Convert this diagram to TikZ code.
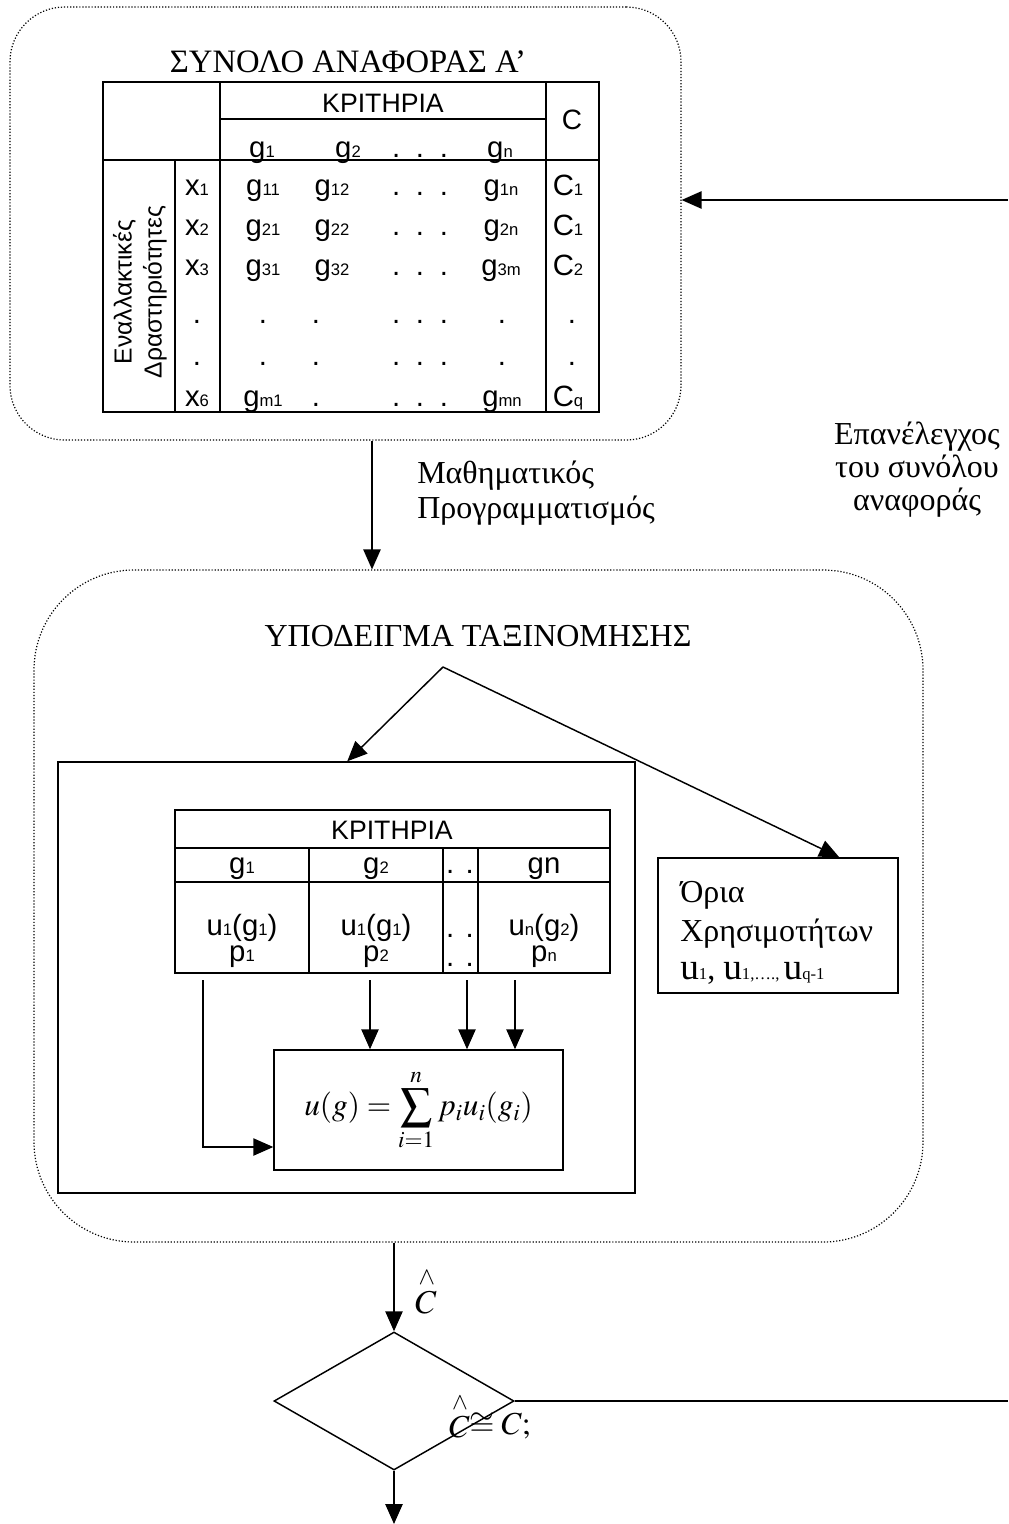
\documentclass[tikz,border=0pt]{standalone}
\usepackage{amsmath}
\usepackage{mathptmx}
\usepackage{fontspec}
\setmainfont{Liberation Serif}
\newfontfamily\arialfont{Liberation Sans}
\usetikzlibrary{arrows.meta,shapes.geometric}

\newcommand\tabfont{\arialfont\fontsize{22}{26}\selectfont}
\newcommand\serfont{\fontsize{24}{26}\selectfont}
\newcommand\ix[1]{{\fontsize{12.5}{13}\selectfont #1}}
\newcommand\tdots{.\hspace{11.8pt}.\hspace{11.8pt}.}
\newcommand\bigu{{\fontsize{28}{29}\selectfont u}}

\begin{document}
\begin{tikzpicture}[x=0.75pt,y=0.75pt,yscale=-1,xscale=1,
  dotbox/.style={draw, line width=0.9pt, dash pattern=on 0.9pt off 1.4pt, inner sep=0},
  solidbox/.style={draw, line width=1.1pt, inner sep=0},
  tline/.style={line width=2pt},
  sline/.style={line width=1.5pt},
  arr/.style={line width=1.1pt, -{Triangle[length=15pt,width=13pt]}},
  tab/.style={font=\tabfont, inner sep=0, anchor=base},
  serif/.style={font=\serfont, inner sep=0}]
\useasboundingbox (0,0) rectangle (1008,1524);

%Shape: Rounded Rect [id:refset]
\node (refset) [dotbox, rounded corners=41pt, minimum width=503.25pt, minimum height=324.75pt] at (345.5,223.5) {};
% Text Node
\node (refttl) [serif, font=\fontsize{24.5}{26}\selectfont] at (348,62) {ΣΥΝΟΛΟ ΑΝΑΦΟΡΑΣ Α’};

%Table: reference set
\draw[tline] (103,82) rectangle (599,412);
\draw[tline] (220,82) -- (220,412);
\draw[tline] (546,82) -- (546,412);
\draw[tline] (220,119) -- (546,119);
\draw[tline] (103,160) -- (599,160);
\draw[tline] (175,160) -- (175,412);

% Text Node
\node (rcrit) [tab, font=\arialfont\fontsize{20}{24}\selectfont] at (383,112) {ΚΡΙΤΗΡΙΑ};
\node (rclass) [tab, font=\arialfont\fontsize{21}{24}\selectfont] at (572,129) {C};
\node (rh1) [tab] at (262,157) {g\ix{1}};
\node (rh2) [tab] at (348,157) {g\ix{2}};
\node (rhd) [tab] at (420,157) {\tdots};
\node (rhn) [tab] at (500,157) {g\ix{n}};
% Text Node
\node (ralt) [rotate=90, align=center, inner sep=0, font=\arialfont\fontsize{18.5}{22.5}\selectfont] at (140,292) {Εναλλακτικές\\Δραστηριότητες};
% row 1
\node (x1) [tab] at (197,195) {x\ix{1}};
\node (g11) [tab] at (263,195) {g\ix{11}};
\node (g12) [tab] at (332,195) {g\ix{12}};
\node (d1) [tab] at (420,195) {\tdots};
\node (g1n) [tab] at (501,195) {g\ix{1n}};
\node (c1) [tab] at (568,195) {C\ix{1}};
% row 2
\node (x2) [tab] at (197,235) {x\ix{2}};
\node (g21) [tab] at (263,235) {g\ix{21}};
\node (g22) [tab] at (332,235) {g\ix{22}};
\node (d2) [tab] at (420,235) {\tdots};
\node (g2n) [tab] at (501,235) {g\ix{2n}};
\node (c2) [tab] at (568,235) {C\ix{1}};
% row 3
\node (x3) [tab] at (197,275) {x\ix{3}};
\node (g31) [tab] at (263,275) {g\ix{31}};
\node (g32) [tab] at (332,275) {g\ix{32}};
\node (d3) [tab] at (420,275) {\tdots};
\node (g3n) [tab] at (501,275) {g\ix{3m}};
\node (c3) [tab] at (568,275) {C\ix{2}};
% row 4
\node (x4) [tab] at (197,323) {.};
\node (g41) [tab] at (263,323) {.};
\node (g42) [tab] at (316,323) {.};
\node (d4) [tab] at (420,323) {\tdots};
\node (g4n) [tab] at (502,323) {.};
\node (c4) [tab] at (572,323) {.};
% row 5
\node (x5) [tab] at (197,365) {.};
\node (g51) [tab] at (263,365) {.};
\node (g52) [tab] at (316,365) {.};
\node (d5) [tab] at (420,365) {\tdots};
\node (g5n) [tab] at (502,365) {.};
\node (c5) [tab] at (572,365) {.};
% row 6
\node (x6) [tab] at (197,406) {x\ix{6}};
\node (gm1) [tab] at (263,406) {g\ix{m1}};
\node (gm2) [tab] at (316,406) {.};
\node (d6) [tab] at (420,406) {\tdots};
\node (gmn) [tab] at (502,406) {g\ix{mn}};
\node (cq) [tab] at (568,406) {C\ix{q}};

%Straight Lines: feedback in
\coordinate (fbin) at (1008,200);
\draw[arr] (fbin) -- (fbin -| refset.east);
% Text Node
\node (recheck) [serif, align=center, font=\fontsize{24}{24.75}\selectfont] at (917,470) {Επανέλεγχος\\του συνόλου\\αναφοράς};

%Shape: Rounded Rect [id:clsmodel]
\node (clsmodel) [dotbox, rounded corners=75pt, minimum width=666.75pt, minimum height=504pt] at (478.5,906) {};
% Text Node
\node (clsttl) [serif] at (478,636) {ΥΠΟΔΕΙΓΜΑ ΤΑΞΙΝΟΜΗΣΗΣ};

%Straight Lines: mathematical programming
\coordinate (mpx) at (372,500);
\draw[arr] (refset.south -| mpx) -- (clsmodel.north -| mpx);
% Text Node
\node (mplabel) [serif, align=left, anchor=west] at (417,493) {Μαθηματικός\\Προγραμματισμός};

%Shape: Rectangle [id:model]
\node (model) [solidbox, minimum width=432.75pt, minimum height=323.25pt] at (346.5,977.5) {};
%Shape: Rectangle [id:limits]
\node (limtxt) [serif, align=left, anchor=west, font=\fontsize{24}{29}\selectfont] at (680,933) {Όρια\\Χρησιμοτήτων\\\bigu\ix{1}, \bigu\ix{1,…., }\bigu\ix{q-1}};
\node (limits) [solidbox, minimum width=180pt, minimum height=101.25pt] at (778,925.5) {};

%Straight Lines: split
\coordinate (split) at (443,667);
\draw[arr] (split) -- ([xshift=217.5pt]model.north west);
\draw[arr] (split) -- ([xshift=136.5pt]limits.north west);

%Table: criteria
\draw[sline] (175,810) rectangle (610,973);
\draw[sline] (175,848) -- (610,848);
\draw[sline] (175,882) -- (610,882);
\draw[sline] (309,848) -- (309,973);
\draw[sline] (443,848) -- (443,973);
\draw[sline] (478,848) -- (478,973);
% Text Node
\node (kcrit) [tab, font=\arialfont\fontsize{20}{24}\selectfont] at (392,839) {ΚΡΙΤΗΡΙΑ};
\node (kg1) [tab] at (242,873) {g\ix{1}};
\node (kg2) [tab] at (376,873) {g\ix{2}};
\node (kgd) [tab] at (460,873) {.\hspace{8.6pt}.};
\node (kgn) [tab] at (544,873) {gn};
\node (ku1) [tab] at (242,935) {u\ix{1}(g\ix{1})};
\node (ku2) [tab] at (376,935) {u\ix{1}(g\ix{1})};
\node (kud) [tab] at (460,937) {.\hspace{8.6pt}.};
\node (kun) [tab] at (544,935) {u\ix{n}(g\ix{2})};
\node (kp1) [tab] at (242,961) {p\ix{1}};
\node (kp2) [tab] at (376,961) {p\ix{2}};
\node (kpd) [tab] at (460,966) {.\hspace{8.6pt}.};
\node (kpn) [tab] at (544,961) {p\ix{n}};

%Shape: Rectangle [id:formula]
\node (formula) [solidbox, minimum width=216.75pt, minimum height=90pt, font=\fontsize{23.5}{27}\selectfont] at (418.5,1110) {$\displaystyle u(g)=\sum_{i=1}^{n}p_iu_i(g_i)$};

%Straight Lines: weights
\coordinate (w1) at (203,980);
\coordinate (w2) at (370,980);
\coordinate (w3) at (467,980);
\coordinate (w4) at (515,980);
\draw[arr] (w1) |- ([yshift=27.75pt]formula.west);
\draw[arr] (w2) -- (w2 |- formula.north);
\draw[arr] (w3) -- (w3 |- formula.north);
\draw[arr] (w4) -- (w4 |- formula.north);

%Shape: Diamond [id:dec]
\node (dec) [draw, line width=1.1pt, shape=diamond, inner sep=0, minimum width=180pt, minimum height=103.5pt] at (394,1401) {};
%Straight Lines: estimate
\draw[arr] (clsmodel.south -| dec.north) -- (dec.north);
% Text Node
\node (chat) [inner sep=0, font=\fontsize{25}{28}\selectfont] at (426,1291) {$\stackrel{\wedge}{C}$};
% Text Node
\node (test) [inner sep=0, font=\fontsize{24}{27}\selectfont] at (490,1416) {$\stackrel{\wedge}{C}\cong C;$};
%Straight Lines: feedback out
\coordinate (fbout) at (1008,1401);
\draw[line width=1.1pt] (dec.east) -- (fbout);
\coordinate (out) at (394,1524);
\draw[arr] (dec.south) -- (out);

\end{tikzpicture}
\end{document}
